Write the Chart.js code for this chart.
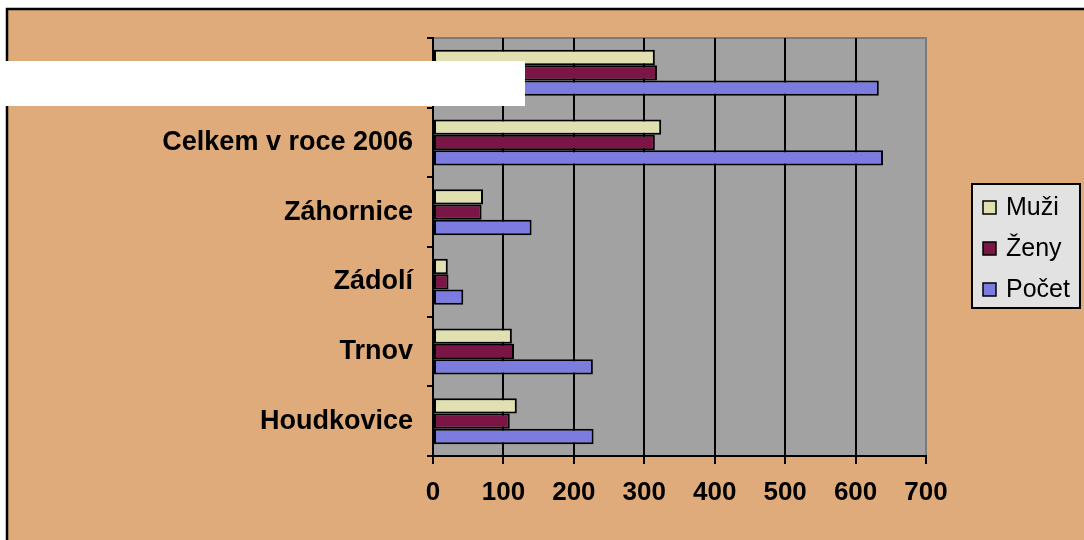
<!DOCTYPE html>
<html>
<head>
<meta charset="utf-8">
<script src="https://cdn.jsdelivr.net/npm/chart.js@4.4.0/dist/chart.umd.min.js"></script>
<style>
  html, body { margin: 0; padding: 0; background: #fff; }
  #wrap { width: 1084px; height: 540px; }
</style>
</head>
<body>
<div id="wrap"><canvas id="chart" width="1084" height="540"></canvas></div>
<script>
// kategorie odshora dolu (horni popisek je v predloze zakryty)
const categories = ['', 'Celkem v roce 2006', 'Záhornice', 'Zádolí', 'Trnov', 'Houdkovice'];
const muzi  = [315, 324, 71, 21, 112, 119];
const zeny  = [318, 315, 69, 22, 115, 109];
const pocet = [633, 639, 140, 43, 227, 228];
const xTicks = [0, 100, 200, 300, 400, 500, 600, 700];

const FONT = '"Liberation Sans", Arial, sans-serif';

// pozadi, ramecek a sede pole grafu
const frame = {
  id: 'frame',
  beforeDraw(chart) {
    const c = chart.ctx;
    const a = chart.chartArea;
    c.save();
    c.fillStyle = '#ffffff';
    c.fillRect(0, 0, chart.width, chart.height);
    c.fillStyle = '#e0ab7b';
    c.fillRect(7, 9, chart.width - 7, chart.height - 9);
    c.strokeStyle = '#000';
    c.lineWidth = 2.5;
    c.beginPath();
    c.moveTo(7, chart.height);
    c.lineTo(7, 9);
    c.lineTo(chart.width, 9);
    c.stroke();
    c.fillStyle = '#a2a2a2';
    c.fillRect(a.left, a.top, a.right - a.left, a.bottom - a.top);
    c.strokeStyle = '#7c7c7c';
    c.lineWidth = 2;
    c.beginPath();
    c.moveTo(a.left, a.top);
    c.lineTo(a.right, a.top);
    c.lineTo(a.right, a.bottom);
    c.stroke();
    c.restore();
  },
  afterDraw(chart) {
    const c = chart.ctx;
    c.save();
    // legenda v sede krabicce
    c.fillStyle = '#e2e2e2';
    c.fillRect(972, 184, 108, 124);
    c.strokeStyle = '#000';
    c.lineWidth = 2;
    c.strokeRect(972, 184, 108, 124);
    c.font = '25px ' + FONT;
    c.textBaseline = 'middle';
    chart.data.datasets.forEach((ds, i) => {
      const y = 207 + i * 41;
      c.fillStyle = ds.backgroundColor;
      c.fillRect(983, y - 6, 13, 13);
      c.lineWidth = 1.5;
      c.strokeStyle = '#000';
      c.strokeRect(983, y - 6, 13, 13);
      c.fillStyle = '#000';
      c.fillText(ds.label, 1006, y + 1);
    });
    // bily obdelnik pres horni popisek
    c.fillStyle = '#ffffff';
    c.fillRect(0, 61, 525, 45);
    c.restore();
  }
};

const ctx = document.getElementById('chart');

let mainChart = new Chart(ctx, {
  type: 'bar',
  data: {
    labels: categories,
    datasets: [
      { label: 'Muži', data: muzi, backgroundColor: '#e0e0b0' },
      { label: 'Ženy', data: zeny, backgroundColor: '#7a1546' },
      { label: 'Počet', data: pocet, backgroundColor: '#7b7be0' }
    ]
  },
  options: {
    indexAxis: 'y',
    responsive: false,
    animation: false,
    devicePixelRatio: 1,
    layout: { padding: { top: 38, right: 158, bottom: 0, left: 0 } },
    datasets: {
      bar: {
        borderColor: '#000',
        borderWidth: 2,
        borderSkipped: false,
        categoryPercentage: 0.66,
        barPercentage: 1.0
      }
    },
    plugins: {
      legend: { display: false },
      tooltip: { enabled: false }
    },
    scales: {
      x: {
        min: 0,
        max: 700,
        afterBuildTicks: (scale) => { scale.ticks = xTicks.map(v => ({ value: v })); },
        afterFit: (scale) => { scale.height = 84; },
        border: { color: '#000', width: 2 },
        grid: {
          color: (c) => c.index === xTicks.length - 1 ? '#7c7c7c' : '#000',
          lineWidth: 2,
          tickLength: 8,
          tickColor: '#000'
        },
        ticks: {
          color: '#000',
          padding: 13,
          font: { family: FONT, size: 26, weight: 'bold' }
        }
      },
      y: {
        afterFit: (scale) => { scale.width = 433; },
        border: { color: '#000', width: 2 },
        grid: {
          offset: true,
          drawOnChartArea: false,
          color: '#000',
          lineWidth: 2,
          tickLength: 6
        },
        ticks: {
          color: '#000',
          padding: 14,
          font: { family: FONT, size: 27, weight: 'bold' }
        }
      }
    }
  },
  plugins: [frame]
});
</script>
</body>
</html>
